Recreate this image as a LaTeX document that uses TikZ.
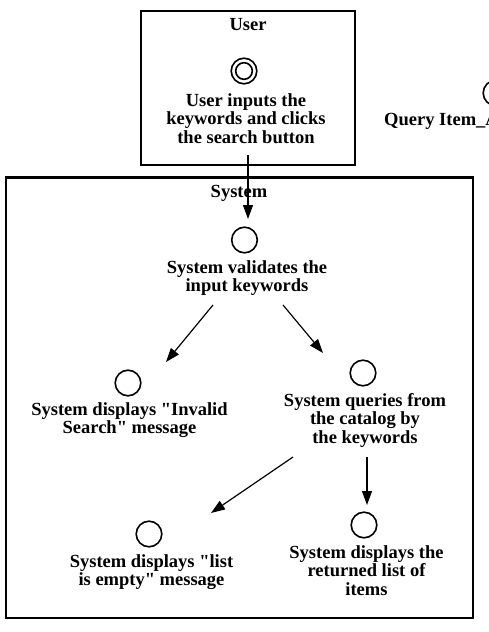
\documentclass[tikz,border=0pt]{standalone}
\usepackage{fontspec}
\setmainfont[Ligatures=TeXOff]{Liberation Serif}
\usetikzlibrary{arrows.meta,calc}
\newcommand\mystrut{\rule{0pt}{14pt}}
\tikzset{
  lbl/.style={align=center, inner sep=0pt, anchor=north, font=\fontsize{18.5}{18.5}\selectfont\bfseries},
  ttl/.style={inner sep=0pt, anchor=base, font=\fontsize{18.5}{18.5}\selectfont\bfseries},
  state/.style={circle, draw, line width=1.6pt, minimum size=25.6pt, inner sep=0pt},
  box/.style={draw, line width=2.8pt},
  arr/.style={-{Triangle[length=14pt,width=10pt]}, line width=1.2pt}
}
\begin{document}
\begin{tikzpicture}[x=1pt,y=-1pt]
\useasboundingbox (0,0) rectangle (489,632);
\clip (0,0) rectangle (489,632);
% lanes
\draw[box] (141,11) rectangle (355,165);
\draw[box] (6,177.5) rectangle (473,618);
\node[ttl] (userlbl) at (248,30) {User};
\node[ttl] (syslbl) at (239,197) {System};
% user
\node[state] (usercirc) at (244,71) {};
\node[circle, draw, line width=1.6pt, minimum size=16.6pt, inner sep=0pt] (userinner) at (usercirc) {};
\node[lbl] (usertext) at (246,92) {\mystrut User inputs the\\keywords and clicks\\the search button};
% system
\node[state] (valcirc) at (244.5,240) {};
\node[lbl] (valtext) at (247,259) {\mystrut System validates the\\input keywords};
\node[state] (invcirc) at (128,383) {};
\node[lbl] (invtext) at (129.5,401) {\mystrut System displays "Invalid\\Search" message};
\node[state] (qcirc) at (363,373) {};
\node[lbl] (qtext) at (365,392) {\mystrut System queries from\\the catalog by\\the keywords};
\node[state] (emptycirc) at (149,534) {};
\node[lbl] (emptytext) at (151.5,553) {\mystrut System displays "list\\is empty" message};
\node[state] (retcirc) at (364,525) {};
\node[lbl] (rettext) at (366.5,544) {\mystrut System displays the\\returned list of\\items};
% cut-off element at the right edge
\node[state] (qiacirc) at (496,93) {};
\node[ttl, anchor=base west] (qiatext) at (384,125) {Query Item\_A};
% flows
\draw[arr] ($(usercirc)+(4,84)$) -- ($(valcirc)+(3.5,-21)$);
\draw[arr] ($(valcirc)+(-31.5,65)$) -- ($(invcirc)+(38,-21)$);
\draw[arr] ($(valcirc)+(38.5,65)$) -- ($(qcirc)+(-40,-20)$);
\draw[arr] ($(qcirc)+(-70,84)$) -- ($(emptycirc)+(62,-21)$);
\draw[arr] ($(qcirc)+(4,84)$) -- ($(retcirc)+(3,-20)$);
\end{tikzpicture}
\end{document}
